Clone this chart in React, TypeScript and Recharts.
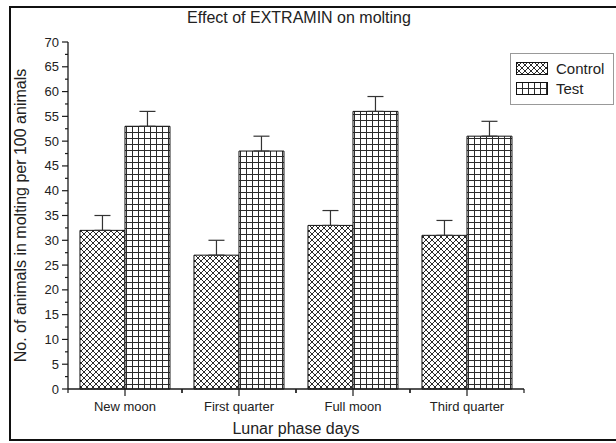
import { Bar, BarChart, ErrorBar, Legend, XAxis, YAxis } from "recharts";

const phases = ["New moon", "First quarter", "Full moon", "Third quarter"];
const controlValues = [32, 27, 33, 31];
const testValues = [53, 48, 56, 51];
const controlErrors = [3, 3, 3, 3];
const testErrors = [3, 3, 3, 3];
const yMajorTicks = [0, 5, 10, 15, 20, 25, 30, 35, 40, 45, 50, 55, 60, 65, 70];
const yMinorTicks = [2.5, 7.5, 12.5, 17.5, 22.5, 27.5, 32.5, 37.5, 42.5, 47.5, 52.5, 57.5, 62.5, 67.5];

const data = phases.map((phase, i) => ({
  phase,
  control: controlValues[i],
  test: testValues[i],
  // only the upper half of the error bar is drawn
  controlErr: [0, controlErrors[i]],
  testErr: [0, testErrors[i]],
}));

const W = 616;
const H = 443;
const MARGIN = { top: 42, right: 92, bottom: 6, left: 8 };
const Y_AXIS_W = 60;
const HALF_BAND = (W - MARGIN.right - MARGIN.left - Y_AXIS_W) / phases.length / 2;

const AXIS = "#1a1a1a";
const TEXT = "#222";
const HATCH = "#2b2b2b";
const FONT = "Arial, 'Liberation Sans', sans-serif";

function YTick(props: any) {
  const { x, y, payload } = props;
  const major = payload.value % 5 === 0;
  return (
    <g>
      <line x1={x - (major ? 6 : 3)} x2={x} y1={y} y2={y} stroke={AXIS} strokeWidth={1.2} />
      {major && (
        <text x={x - 9} y={y} dy="0.35em" textAnchor="end" fontSize={13} fill={TEXT} fontFamily={FONT}>
          {payload.value}
        </text>
      )}
    </g>
  );
}

function BottomTick(props: any) {
  const { x, y, payload } = props;
  return (
    <g>
      <line x1={x} x2={x} y1={y} y2={y + 7} stroke={AXIS} strokeWidth={1.2} />
      <line x1={x - HALF_BAND} x2={x - HALF_BAND} y1={y} y2={y + 4} stroke={AXIS} strokeWidth={1.2} />
      <line x1={x + HALF_BAND} x2={x + HALF_BAND} y1={y} y2={y + 4} stroke={AXIS} strokeWidth={1.2} />
      <text x={x} y={y + 21.5} textAnchor="middle" fontSize={13} fill={TEXT} fontFamily={FONT}>
        {payload.value}
      </text>
    </g>
  );
}

function TopTick(props: any) {
  const { x, y } = props;
  return (
    <g>
      <line x1={x} x2={x} y1={y} y2={y + 7} stroke={AXIS} strokeWidth={1.2} />
      <line x1={x - HALF_BAND} x2={x - HALF_BAND} y1={y} y2={y + 4} stroke={AXIS} strokeWidth={1.2} />
      <line x1={x + HALF_BAND} x2={x + HALF_BAND} y1={y} y2={y + 4} stroke={AXIS} strokeWidth={1.2} />
    </g>
  );
}

function HatchLegend({ payload }: any) {
  return (
    <div
      style={{
        border: "1px solid #999",
        background: "#fff",
        padding: "4px 0 6px 5px",
        width: 97,
        fontFamily: FONT,
        fontSize: 15,
        color: TEXT,
      }}
    >
      {(payload || []).map((entry: any) => (
        <div key={entry.value} style={{ display: "flex", alignItems: "center", height: 20 }}>
          <svg width={32} height={13} style={{ marginRight: 8 }}>
            <rect x={0.5} y={0.5} width={31} height={12} fill={entry.color} stroke="#111" />
          </svg>
          <span>{entry.value}</span>
        </div>
      ))}
    </div>
  );
}

export default function App() {
  return (
    <div style={{ position: "absolute", left: 0, top: 0, width: W, height: H, overflow: "hidden", background: "#fff" }}>
      <div
        style={{
          position: "absolute",
          left: 9,
          top: 6,
          width: 700,
          height: 431,
          border: "2px solid #111",
        }}
      />
      <div
        style={{
          position: "absolute",
          left: 299,
          top: 9,
          transform: "translateX(-50%)",
          whiteSpace: "nowrap",
          fontFamily: FONT,
          fontSize: 16,
          lineHeight: "18px",
          color: TEXT,
        }}
      >
        Effect of EXTRAMIN on molting
      </div>
      <div style={{ position: "absolute", left: 0, top: 0 }}>
        <BarChart width={W} height={H} data={data} margin={MARGIN} barCategoryGap="10.5%" barGap={0}>
          <defs>
            <pattern id="ctrlHatch" patternUnits="userSpaceOnUse" width={6} height={6}>
              <rect width={6} height={6} fill="#fff" />
              <path
                d="M0,0 L6,6 M6,0 L0,6 M-1,1 L1,-1 M5,7 L7,5 M-1,5 L1,7 M5,-1 L7,1"
                stroke={HATCH}
                strokeWidth={1}
              />
            </pattern>
            <pattern id="testGrid" patternUnits="userSpaceOnUse" width={6} height={6}>
              <rect width={6} height={6} fill="#fff" />
              <path d="M0,0.5 H6 M0.5,0 V6" stroke={HATCH} strokeWidth={1} />
            </pattern>
          </defs>
          <XAxis
            dataKey="phase"
            interval={0}
            height={48}
            tickSize={0}
            tickMargin={0}
            tickLine={false}
            tick={<BottomTick />}
            axisLine={{ stroke: AXIS, strokeWidth: 1.3 }}
            label={{ value: "Lunar phase days", position: "insideBottom", offset: 3, fontSize: 16, fill: TEXT, fontFamily: FONT }}
          />
          <XAxis
            xAxisId="top"
            orientation="top"
            dataKey="phase"
            interval={0}
            height={0}
            tickSize={0}
            tickMargin={0}
            tickLine={false}
            tick={<TopTick />}
            axisLine={{ stroke: AXIS, strokeWidth: 1.3 }}
          />
          <YAxis
            width={Y_AXIS_W}
            domain={[0, 70]}
            ticks={[...yMajorTicks, ...yMinorTicks].sort((a, b) => a - b)}
            interval={0}
            tickSize={0}
            tickMargin={0}
            tickLine={false}
            tick={<YTick />}
            axisLine={{ stroke: AXIS, strokeWidth: 1.3 }}
            label={{
              value: "No. of animals in molting per 100 animals",
              angle: -90,
              position: "insideLeft",
              offset: 12,
              fontSize: 16,
              fill: TEXT,
              fontFamily: FONT,
              style: { textAnchor: "middle" },
            }}
          />
          <Legend
            layout="vertical"
            align="center"
            verticalAlign="middle"
            content={<HatchLegend />}
            wrapperStyle={{ left: 510, top: 53, width: 104, height: "auto" }}
          />
          <Bar dataKey="control" name="Control" fill="url(#ctrlHatch)" stroke="#111" strokeWidth={1} isAnimationActive={false}>
            <ErrorBar dataKey="controlErr" direction="y" width={8} stroke="#333" strokeWidth={1.2} />
          </Bar>
          <Bar dataKey="test" name="Test" fill="url(#testGrid)" stroke="#111" strokeWidth={1} isAnimationActive={false}>
            <ErrorBar dataKey="testErr" direction="y" width={8} stroke="#333" strokeWidth={1.2} />
          </Bar>
        </BarChart>
      </div>
    </div>
  );
}
